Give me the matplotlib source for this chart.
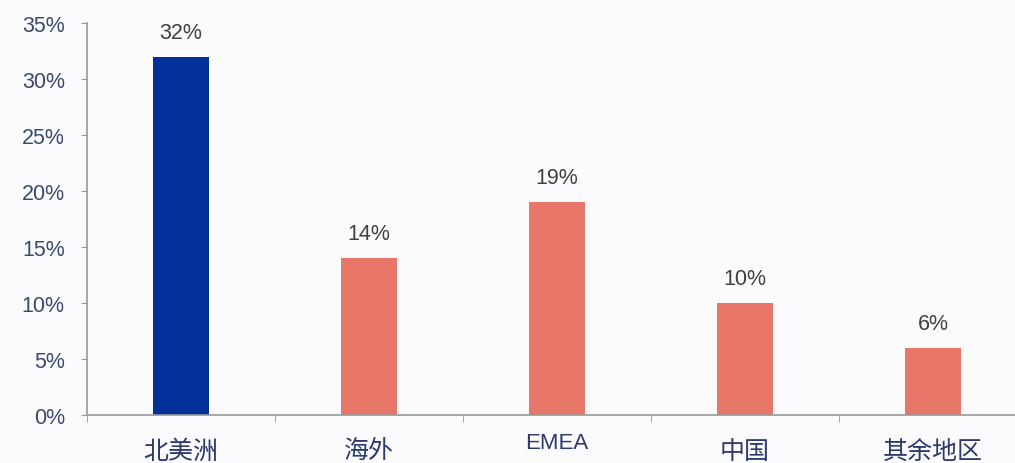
import matplotlib
matplotlib.use('Agg')
import matplotlib.pyplot as plt
from matplotlib.ticker import FixedLocator, PercentFormatter
from matplotlib.transforms import ScaledTranslation

plt.rcParams['font.family'] = ['Liberation Sans', 'Noto Sans CJK SC', 'DejaVu Sans']

regions = ['北美洲', '海外', 'EMEA', '中国', '其余地区']
shares = [32, 14, 19, 10, 6]
bar_colors = ['#04309a', '#e8776a', '#e8776a', '#e8776a', '#e8776a']

fig = plt.figure(figsize=(10.15, 4.64), dpi=100)
ax = fig.add_axes([87 / 1015, 48 / 464, 940 / 1015, 392 / 464])

x = range(len(regions))
bars = ax.bar(x, shares, width=0.30, color=bar_colors, zorder=2)

for rect, v in zip(bars, shares):
    ax.annotate(f'{v}%', (rect.get_x() + rect.get_width() / 2, v),
                xytext=(0, 10), textcoords='offset points',
                ha='center', va='bottom', fontsize=15.5, color='#404040')

ax.set_xlim(-0.5, len(regions) - 0.5)
ax.set_ylim(0, 35)
ax.set_yticks(range(0, 36, 5))
ax.yaxis.set_major_formatter(PercentFormatter(decimals=0))

ax.set_xticks(list(x))
ax.set_xticklabels(regions)
ax.xaxis.set_minor_locator(FixedLocator([i - 0.5 for i in range(len(regions) + 1)]))
ax.tick_params(axis='x', which='major', length=0, pad=12, labelcolor='#2b3a6b')
ax.tick_params(axis='x', which='minor', length=5, direction='out', color='#999999')
ax.tick_params(axis='y', length=4, direction='out', color='#999999', pad=12,
               labelsize=15.5, labelcolor='#3a4a6a')

# latin label sits higher than the chinese ones
for lab in ax.get_xticklabels():
    if lab.get_text().isascii():
        lab.set_fontsize(16)
    else:
        lab.set_fontsize(18)
        lab.set_transform(lab.get_transform() + ScaledTranslation(0, -7 / 100, fig.dpi_scale_trans))

for side in ('top', 'right'):
    ax.spines[side].set_visible(False)
for side in ('left', 'bottom'):
    ax.spines[side].set_color('#999999')
    ax.spines[side].set_linewidth(1.2)

ax.set_facecolor('#fbfbfd')
fig.patch.set_facecolor('#fbfbfd')

fig.savefig('out.png', dpi=100, facecolor=fig.get_facecolor())
